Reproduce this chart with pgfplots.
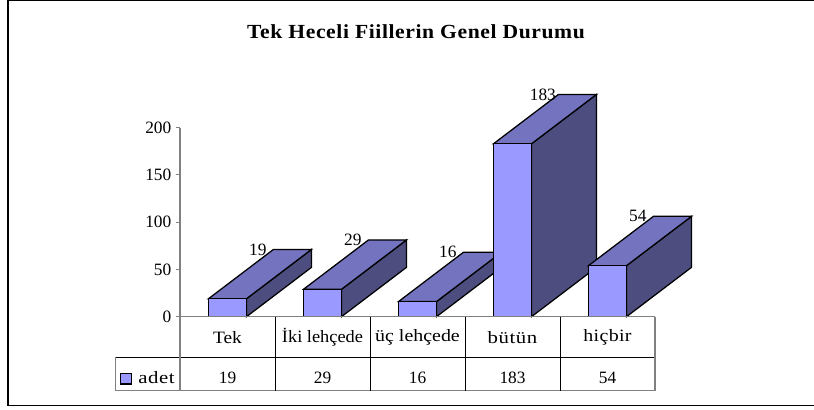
\documentclass[border=0pt]{standalone}
\usepackage{pgfplots}
\pgfplotsset{compat=1.18}
\usepackage{fontspec}
\setmainfont{Liberation Serif}
\newcommand\ls[3]{{\addfontfeature{FakeStretch=#1,LetterSpace=#2}#3}}
\definecolor{frontc}{HTML}{9999FF}
\definecolor{topc}{HTML}{7373BF}
\definecolor{sidec}{HTML}{4D4D80}
\definecolor{axgray}{HTML}{808080}
\pgfplotsset{
  front/.style={ybar,bar width=28.9pt,bar shift=0pt,fill=frontc,draw=black,line width=0.95pt},
  top/.style={fill=topc,draw=black,line width=0.95pt,mark=none},
  side/.style={fill=sidec,draw=black,line width=0.95pt,mark=none}
}
\begin{document}
\begin{tikzpicture}
\useasboundingbox (-135pt,-69.975pt) rectangle (475.5pt,237.525pt);
\begin{axis}[
  at={(0,0)},anchor=origin,
  scale only axis,width=356.25pt,height=141.75pt,
  xmin=0,xmax=5,ymin=0,ymax=200,
  clip=false,
  axis lines=left,
  axis line style={draw=axgray,line width=0.9pt,-},
  xtick={0.5,1.5,2.5,3.5,4.5},
  xticklabels={\ls{1.12}{0}{Tek},\ls{1.06}{0}{\.Iki lehçede},\ls{1.15}{0}{üç lehçede},\ls{1.2}{3.5}{bütün},\ls{1.15}{2}{hiçbir}},
  x tick label style={font=\fontsize{13}{15}\selectfont,anchor=center,yshift=-12.5pt},
  xtick style={draw=none},
  ytick={0,50,100,150,200},
  y tick label style={font=\fontsize{13}{15}\selectfont},
  ytick style={draw=axgray,line width=0.7pt},
  tick align=outside,
  major tick length=3pt,
  /pgf/number format/assume math mode=true,
]
% Bar 1: 19
\addplot[side] coordinates {(0.7,0)(1.384,52.2)(1.384,71.2)(0.7,19)} -- cycle;
\addplot[top] coordinates {(0.3,19)(0.7,19)(1.384,71.2)(0.984,71.2)} -- cycle;
\addplot[front] coordinates {(0.5,19)};
% Bar 2: 29
\addplot[side] coordinates {(1.7,0)(2.384,52.2)(2.384,81.2)(1.7,29)} -- cycle;
\addplot[top] coordinates {(1.3,29)(1.7,29)(2.384,81.2)(1.984,81.2)} -- cycle;
\addplot[front] coordinates {(1.5,29)};
% Bar 3: 16
\addplot[side] coordinates {(2.7,0)(3.384,52.2)(3.384,68.2)(2.7,16)} -- cycle;
\addplot[top] coordinates {(2.3,16)(2.7,16)(3.384,68.2)(2.984,68.2)} -- cycle;
\addplot[front] coordinates {(2.5,16)};
% Bar 4: 183
\addplot[side] coordinates {(3.7,0)(4.384,52.2)(4.384,235.2)(3.7,183)} -- cycle;
\addplot[top] coordinates {(3.3,183)(3.7,183)(4.384,235.2)(3.984,235.2)} -- cycle;
\addplot[front] coordinates {(3.5,183)};
% Bar 5: 54
\addplot[side] coordinates {(4.7,0)(5.384,52.2)(5.384,106.2)(4.7,54)} -- cycle;
\addplot[top] coordinates {(4.3,54)(4.7,54)(5.384,106.2)(4.984,106.2)} -- cycle;
\addplot[front] coordinates {(4.5,54)};
% Data labels
\addplot[only marks,mark=none,point meta=explicit symbolic,
  nodes near coords,
  nodes near coords style={anchor=center,font=\fontsize{13}{15}\selectfont,text=black}]
  coordinates {(0.82,71.2)[19] (1.82,81.2)[29] (2.82,68.2)[16] (3.82,235.2)[183] (4.82,106.2)[54]};
\end{axis}
\begin{scope}[x=0.75pt,y=-0.75pt,shift={(-180,-316.7)}]
  % outer frame: left, top and bottom lines only show inside the image
  \draw[black,line width=1.1pt] (814,0.7) -- (8,0.7) -- (8,405.5) -- (814,405.5);
  % title
  \node[font=\fontsize{15}{17}\selectfont\bfseries\addfontfeature{FakeStretch=1.08,LetterSpace=3}] at (416,31.5) {Tek Heceli Fiillerin Genel Durumu};
  % data table
  \draw[axgray,line width=0.9pt] (180,316.7) -- (655,316.7);
  \draw[black,line width=0.6pt] (115,357.3) -- (655,357.3);
  \draw[axgray,line width=0.9pt] (115,390.7) -- (655,390.7);
  \draw[axgray,line width=0.9pt] (180,316.7) -- (180,390.7);
  \foreach \x in {275,370,465,560}{\draw[black,line width=0.6pt] (\x,316.7) -- (\x,390.7);}
  \draw[axgray,line width=0.9pt] (655,316.7) -- (655,390.7);
  \draw[axgray,line width=0.6pt] (115,357.3) -- (115,390.7);
  % legend key
  \draw[black,fill=frontc,line width=0.8pt] (120.5,373.5) rectangle (131.5,384);
  \node[anchor=west,inner sep=0pt,font=\fontsize{13}{15}\selectfont] at (138,378) {\ls{1.2}{3.5}{adet}};
  \foreach \x/\v in {227.5/19,322.5/29,417.5/16,512.5/183,607.5/54}{
    \node[font=\fontsize{13}{15}\selectfont] at (\x,378.3) {\v};}
\end{scope}
\end{tikzpicture}
\end{document}
